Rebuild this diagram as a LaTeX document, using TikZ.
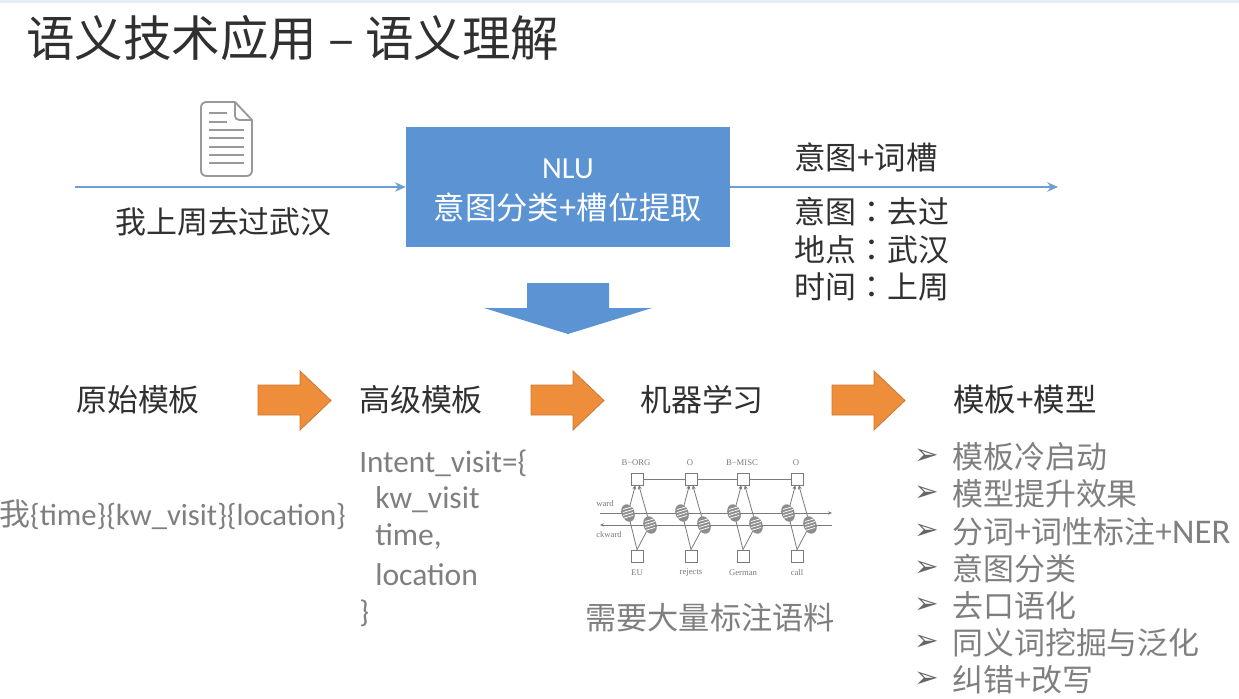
\documentclass[tikz,border=0pt]{standalone}
\usepackage{fontspec}
\setmainfont{Noto Sans CJK SC}
\newfontfamily\tc{Noto Sans CJK TC}
\newfontfamily\lat{Carlito}
\newfontfamily\sym{DejaVu Sans}
\newfontfamily\ser{Liberation Serif}
\usetikzlibrary{arrows.meta,calc}
\definecolor{bluebox}{HTML}{5B93D3}
\definecolor{flowline}{HTML}{6F9FD2}
\definecolor{orangeA}{HTML}{EE8D3A}
\definecolor{greytext}{HTML}{7F7F7F}
\definecolor{ink}{HTML}{303030}
\definecolor{netgrey}{HTML}{7A7A7A}
\newcommand{\fz}[1]{\fontsize{#1}{#1}\selectfont}
\tikzset{
  x=0.75pt,y=-0.75pt,
  title/.style={anchor=west,inner sep=0,text=ink,font=\fz{36.4}},
  body/.style={inner sep=0,text=ink,font=\fz{23.2}},
  bodyw/.style={body,anchor=west},
  grey/.style={anchor=west,inner sep=0,text=greytext,font=\fz{23.2}},
  bul/.style={anchor=west,inner sep=0,text=black!60,font=\sym\fz{22}},
  flow/.style={draw=flowline,line width=1.5pt,-{Stealth[length=8pt,width=7pt]}},
  nlubox/.style={fill=bluebox,draw=none,minimum width=243pt,minimum height=90pt,inner sep=0},
  orangearr/.style={fill=orangeA,draw=orangeA!85!black,line width=.6pt,line join=miter},
  cell/.style={draw=netgrey,fill=white,line width=.6pt,minimum size=9pt,inner sep=0},
  net/.style={draw=netgrey,line width=.6pt},
  netlab/.style={inner sep=0,text=netgrey,font=\ser\fz{6.5}},
  doc/.style={draw=black!40,line width=1.4pt,line join=round},
  docl/.style={draw=black!40,line width=1.1pt},
}
\begin{document}
\begin{tikzpicture}
\useasboundingbox (0,0) rectangle (1239,699);
\fill[white] (0,0) rectangle (1239,699);
\fill[flowline!18] (0,0) rectangle (1239,3);
% title
\node[title] (title) at (26,38) {语义技术应用 – 语义理解};
% doc icon
\draw[doc] (235,102) -- (207,102) .. controls (203,102) and (201,104) .. (201,108) -- (201,170) .. controls (201,174) and (203,176) .. (207,176) -- (246,176) .. controls (250,176) and (252,174) .. (252,170) -- (252,120) -- (235,102) -- (235,116) .. controls (235,119) and (237,120) .. (240,120) -- (252,120);
\foreach \yy/\xe in {113/227,122/227,130/244,138/244,147/244,155/244,163/244}{\draw[docl] (209,\yy) -- (\xe,\yy);}
% flow
\node[nlubox] (nlu) at (568,187) {};
\node[inner sep=0,text=white,font=\lat\fz{23}] (nlut) at (568,169) {NLU};
\node[inner sep=0,text=white,font=\fz{23.5}] (nlus) at (568,207) {意图分类+槽位提取};
\coordinate (src) at (75,187);
\coordinate (dst) at (1058,187);
\draw[flow] (src) -- (nlu);
\draw[flow] (nlu) -- (dst);
\node[body] (sent) at (223.5,222) {我上周去过武汉};
\node[bodyw,font=\fz{23.6}] (res) at (794,157) {意图+词槽};
\node[bodyw] (r1) at (794,212) {意图{\tc ：}去过};
\node[bodyw] (r2) at (794,250) {地点{\tc ：}武汉};
\node[bodyw] (r3) at (794,287) {时间{\tc ：}上周};
% big down arrow
\fill[bluebox] (527,283) -- (609,283) -- (609,308) -- (652,308) -- (568,334) -- (484,308) -- (527,308) -- cycle;
% stage labels
\node[body] (s1) at (138,400) {原始模板};
\node[body] (s2) at (421,400) {高级模板};
\node[body] (s3) at (702,400) {机器学习};
\node[body,font=\fz{23.6}] (s4) at (1025,400) {模板+模型};
\foreach \xx in {258,531,832}{
  \path[orangearr] (\xx,385) -- (\xx+42,385) -- (\xx+42,371) -- (\xx+73,400.5) -- (\xx+42,430) -- (\xx+42,415) -- (\xx,415) -- cycle;
}
% left template
\node[grey] (tpl) at (-1,515) {我{\lat\fz{23}\{time\}\{kw\_visit\}\{location\}}};
\node[grey,font=\lat\fz{23.4}] (i1) at (359,463) {Intent\_visit=\{};
\node[grey,font=\lat\fz{23.7}] (i2) at (375,500) {kw\_visit};
\node[grey,font=\lat\fz{23.7}] (i3) at (375,537) {time,};
\node[grey,font=\lat\fz{23.7}] (i4) at (375,575) {location};
\node[grey,font=\lat\fz{23.4}] (i5) at (359,613) {\}};
% network
\draw[net,-{Stealth[length=3pt,width=2.5pt]}] (600,513) -- (832,513);
\draw[net,{Stealth[length=3pt,width=2.5pt]}-] (600,525) -- (832,525);
\foreach \i/\cx/\tl/\bl in {1/637/B−ORG/EU,2/691/O/rejects,3/743/B−MISC/German,4/797/O/call}{
  \node[netlab] (tl\i) at (\cx-1,463) {\tl};
  \node[netlab] (bl\i) at (\cx,573) {\bl};
  \node[cell] (t\i) at (\cx,479) {};
  \node[cell] (b\i) at (\cx,556) {};
  \coordinate (f\i) at (\cx-9,513);
  \coordinate (g\i) at (\cx+13,525);
  \draw[net,-{Stealth[length=3pt,width=3pt]}] (f\i) -- (t\i);
  \draw[net,-{Stealth[length=3pt,width=3pt]}] (g\i) -- (t\i);
  \draw[net] (b\i.north) -- (f\i);
  \draw[net] (b\i.north) -- (g\i);
  \fill[netgrey!85,rotate around={20:(f\i)}] (f\i) ellipse (6.5 and 9);
  \fill[netgrey!85,rotate around={20:(g\i)}] (g\i) ellipse (6.5 and 9);
  \foreach \d in {-5,-2,1,4}{
    \draw[white,line width=.55pt] ($(f\i)+(-5,\d+1.5)$) -- ++(10,-3);
    \draw[white,line width=.55pt] ($(g\i)+(-5,\d+1.5)$) -- ++(10,-3);
  }
}
\draw[net] (t1) -- (t2);
\draw[net] (t2) -- (t3);
\draw[net] (t3) -- (t4);
\node[netlab,anchor=west] (fw) at (596,504) {ward};
\node[netlab,anchor=west] (bw) at (596,535) {ckward};
\node[grey,font=\fz{23.4}] (need) at (585,618) {需要大量标注语料};
% bullets
\foreach \n/\yy/\tx in {1/457/模板冷启动,2/494/模型提升效果,3/532/分词+词性标注+{\lat\fz{26}NER},4/569/意图分类,5/606/去口语化,6/643/同义词挖掘与泛化,7/680/纠错+改写}{
  \node[bul] (m\n) at (914,\yy) {➢};
  \node[grey] (l\n) at (952,\yy) {\tx};
}
\end{tikzpicture}
\end{document}
